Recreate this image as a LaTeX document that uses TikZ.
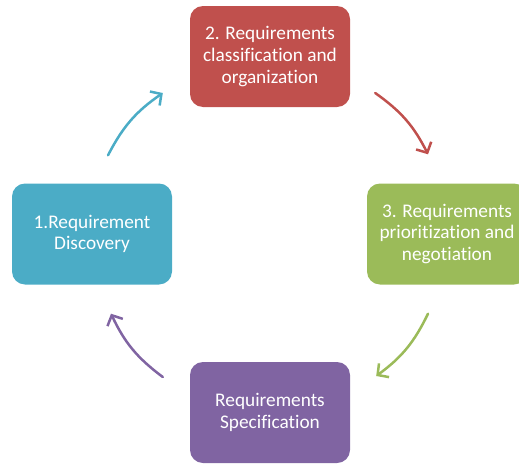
\documentclass[tikz,border=0pt]{standalone}
\usepackage{fontspec}
\setmainfont{Carlito}[Ligatures={NoCommon}]
\usetikzlibrary{arrows.meta}
\definecolor{stagecyan}{HTML}{4BACC6}
\definecolor{stagered}{HTML}{C0504D}
\definecolor{stagegreen}{HTML}{9BBB59}
\definecolor{stagepurple}{HTML}{8064A2}

\begin{document}
\begin{tikzpicture}[x=1pt, y=-1pt,
    stage/.style={rounded corners=13pt, minimum width=160pt, minimum height=101pt,
      inner sep=0pt, text=white, align=center, font=\fontsize{19.3}{21.6}\selectfont},
    cycle/.style={line width=2.5pt, line cap=round,
      -{Straight Barb[length=8pt, width=17pt, line width=2.5pt]}}]
    \useasboundingbox (0,0) rectangle (519,463);
    \clip (0,0) rectangle (519,463);
    % the four stages
    \node [stage, fill=stagecyan] (disc) at (92,234) {1.Requirement\\Discovery};
    \node [stage, fill=stagered] (clas) at (270,56.5) {2. Requirements\\classification and\\organization};
    \node [stage, fill=stagegreen] (prio) at (447,234) {3. Requirements\\prioritization and\\negotiation};
    \node [stage, fill=stagepurple] (spec) at (270,412.5) {Requirements\\Specification};
    % arrows between them
    \draw [cycle, stagecyan] ([xshift=16pt, yshift=28pt]disc.north) to [bend left=14] ([xshift=-27pt, yshift=-36.5pt]clas.west);
    \draw [cycle, stagered] ([xshift=25pt, yshift=-36.5pt]clas.east) to [bend left=14] ([xshift=-19pt, yshift=29pt]prio.north);
    \draw [cycle, stagegreen] ([xshift=-19pt, yshift=-29pt]prio.south) to [bend left=14] ([xshift=26pt, yshift=36.5pt]spec.east);
    \draw [cycle, stagepurple] ([xshift=-27pt, yshift=35.5pt]spec.west) to [bend left=14] ([xshift=19pt, yshift=-29pt]disc.south);
\end{tikzpicture}
\end{document}
